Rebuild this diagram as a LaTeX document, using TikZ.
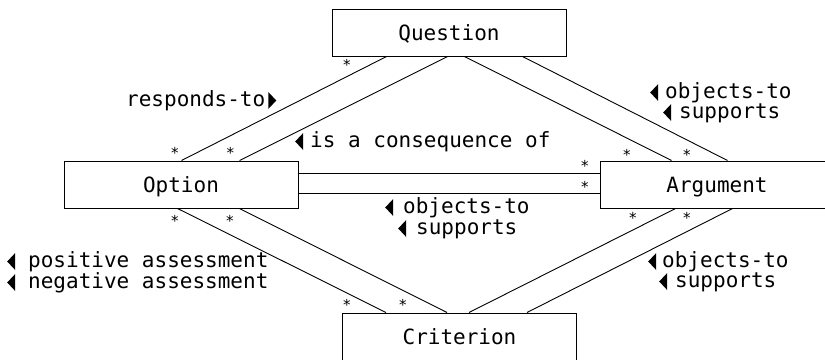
\documentclass[tikz,border=0pt]{standalone}
\usepackage{fontspec}
\setmonofont{DejaVu Sans Mono}
\usetikzlibrary{calc}
\newcommand\mono{\ttfamily\fontsize{21}{25}\selectfont}
\newcommand\starfont{\ttfamily\fontsize{15}{18}\selectfont}
\newcommand\tril{\tikz[baseline=0pt,x=1pt,y=1pt]\fill (0,5.5)--(8,14)--(8,-3)--cycle;}
\newcommand\trir{\tikz[baseline=0pt,x=1pt,y=1pt]\fill (8,5.5)--(0,14)--(0,-3)--cycle;}
\begin{document}
\begin{tikzpicture}[x=1pt,y=-1pt,
  box/.style={draw,line width=1pt,minimum width=234pt,minimum height=47pt,inner sep=0pt,text height=15pt,text depth=0pt,font=\mono},
  conn/.style={line width=0.9pt},
  lbl/.style={anchor=base west,inner sep=0pt,font=\mono},
  star/.style={anchor=base,inner sep=0pt,font=\starfont}]
\useasboundingbox (0,0) rectangle (825,359);
\node[box] (Q) at (449,32.5) {Question};
\node[box] (O) at (181,184.5) {Option};
\node[box] (A) at (717,184.5) {Argument};
\node[box] (C) at (459.5,336.5) {Criterion};
% connectors
\draw[conn] ($(Q.south west)+(55,0)$) -- ($(O.north west)+(118,0)$);
\draw[conn] ($(Q.south west)+(116,0)$) -- ($(O.north west)+(176,0)$);
\draw[conn] ($(Q.south west)+(133,0)$) -- ($(A.north west)+(72,0)$);
\draw[conn] ($(Q.south west)+(191,0)$) -- ($(A.north west)+(128,0)$);
\draw[conn] ($(O.north east)+(0,13)$) -- ($(A.north west)+(0,13)$);
\draw[conn] ($(O.north east)+(0,33)$) -- ($(A.north west)+(0,33)$);
\draw[conn] ($(O.south west)+(114,0)$) -- ($(C.north west)+(44,0)$);
\draw[conn] ($(O.south west)+(176,0)$) -- ($(C.north west)+(105,0)$);
\draw[conn] ($(A.south west)+(76,0)$) -- ($(C.north west)+(127,0)$);
\draw[conn] ($(A.south west)+(133,0)$) -- ($(C.north west)+(185,0)$);
% multiplicities
\node[star] (s1) at (347,70.5) {*};
\node[star] (s2) at (175,158) {*};
\node[star] (s3) at (230.5,158) {*};
\node[star] (s4) at (627,160.5) {*};
\node[star] (s5) at (687,160.5) {*};
\node[star] (s6) at (585,171.5) {*};
\node[star] (s7) at (585,192.5) {*};
\node[star] (s8) at (175,226.5) {*};
\node[star] (s9) at (230,226.5) {*};
\node[star] (s10) at (347,310.5) {*};
\node[star] (s11) at (403,310.5) {*};
\node[star] (s12) at (633,223.5) {*};
\node[star] (s13) at (687,223.5) {*};
% labels
\node[lbl] (l1) at (126,106) {responds-to\rlap{\hspace{3pt}\trir}};
\node[lbl] (l2) at (310,147) {\llap{\tril\hspace{7pt}}is a consequence of};
\node[lbl] (l3) at (665,98) {\llap{\tril\hspace{7pt}}objects-to};
\node[lbl] (l4) at (679,118) {\llap{\tril\hspace{8pt}}supports};
\node[lbl] (l5) at (403,213) {\llap{\tril\hspace{10pt}}objects-to};
\node[lbl] (l6) at (416,234) {\llap{\tril\hspace{10pt}}supports};
\node[lbl] (l7) at (28,267) {\llap{\tril\hspace{13pt}}positive assessment};
\node[lbl] (l8) at (28,288) {\llap{\tril\hspace{13pt}}negative assessment};
\node[lbl] (l9) at (662,267) {\llap{\tril\hspace{6pt}}objects-to};
\node[lbl] (l10) at (675,287) {\llap{\tril\hspace{8pt}}supports};
\end{tikzpicture}
\end{document}
